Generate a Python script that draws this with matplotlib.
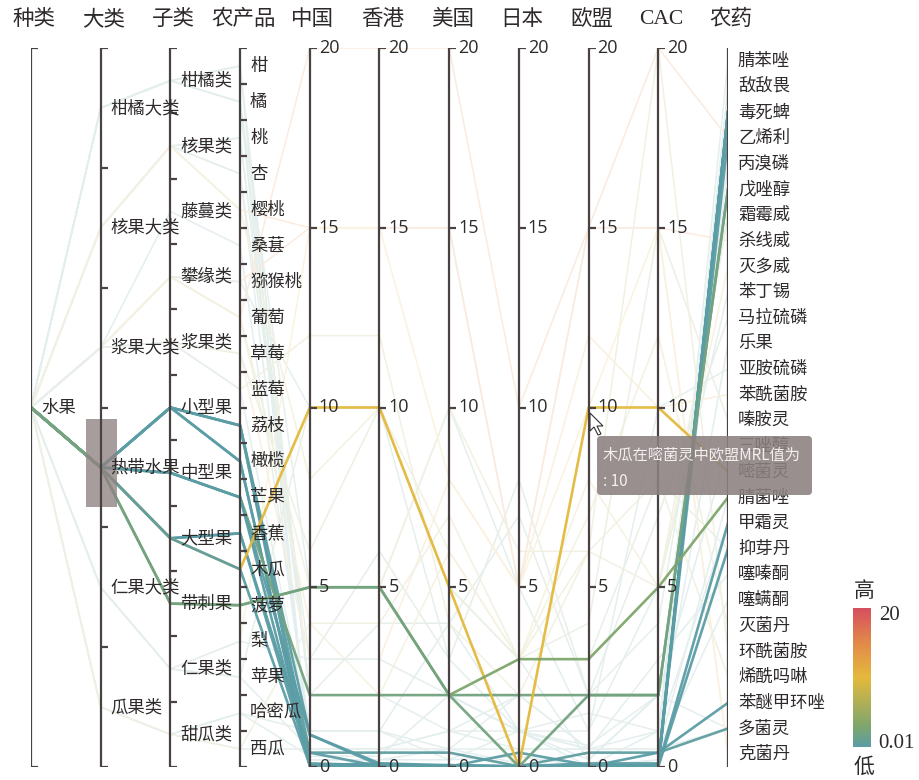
import matplotlib
matplotlib.use("Agg")
import matplotlib.pyplot as plt
from matplotlib.colors import LinearSegmentedColormap, Normalize, to_rgb
from matplotlib.colorbar import ColorbarBase
from matplotlib.patches import Rectangle, FancyBboxPatch, Polygon

plt.rcParams['font.family'] = ['Noto Sans CJK SC', 'DejaVu Sans']

# ---- data ----
dims = ['种类', '大类', '子类', '农产品', '中国', '香港', '美国', '日本', '欧盟', 'CAC', '农药']
kinds = ['水果']
groups = ['柑橘大类', '核果大类', '浆果大类', '热带水果', '仁果大类', '瓜果类']
subgroups = ['柑橘类', '核果类', '藤蔓类', '攀缘类', '浆果类', '小型果', '中型果',
             '大型果', '带刺果', '仁果类', '甜瓜类']
products = ['柑', '橘', '桃', '杏', '樱桃', '桑葚', '猕猴桃', '葡萄', '草莓', '蓝莓',
            '荔枝', '橄榄', '芒果', '香蕉', '木瓜', '菠萝', '梨', '苹果', '哈密瓜', '西瓜']
pesticides = ['腈苯唑', '敌敌畏', '毒死蜱', '乙烯利', '丙溴磷', '戊唑醇', '霜霉威', '杀线威',
              '灭多威', '苯丁锡', '马拉硫磷', '乐果', '亚胺硫磷', '苯酰菌胺', '嗪胺灵', '三唑醇',
              '嘧菌灵', '腈菌唑', '甲霜灵', '抑芽丹', '噻嗪酮', '噻螨酮', '灭菌丹', '环酰菌胺',
              '烯酰吗啉', '苯醚甲环唑', '多菌灵', '克菌丹']
mrl_ticks = [0, 5, 10, 15, 20]
mrl_min, mrl_max = 0.01, 20

group_of = {'柑': '柑橘大类', '橘': '柑橘大类', '桃': '核果大类', '杏': '核果大类',
            '樱桃': '核果大类', '桑葚': '浆果大类', '猕猴桃': '浆果大类', '葡萄': '浆果大类',
            '草莓': '浆果大类', '蓝莓': '浆果大类', '荔枝': '热带水果', '橄榄': '热带水果',
            '芒果': '热带水果', '香蕉': '热带水果', '木瓜': '热带水果', '菠萝': '热带水果',
            '梨': '仁果大类', '苹果': '仁果大类', '哈密瓜': '瓜果类', '西瓜': '瓜果类'}
sub_of = {'柑': '柑橘类', '橘': '柑橘类', '桃': '核果类', '杏': '核果类', '樱桃': '核果类',
          '桑葚': '藤蔓类', '猕猴桃': '攀缘类', '葡萄': '攀缘类', '草莓': '浆果类',
          '蓝莓': '浆果类', '荔枝': '小型果', '橄榄': '小型果', '芒果': '中型果',
          '香蕉': '大型果', '木瓜': '大型果', '菠萝': '带刺果', '梨': '仁果类',
          '苹果': '仁果类', '哈密瓜': '甜瓜类', '西瓜': '甜瓜类'}

# brushed records (热带水果)
hl_product = ['荔枝', '荔枝', '荔枝', '橄榄', '橄榄', '芒果', '芒果', '芒果',
              '香蕉', '香蕉', '木瓜', '木瓜', '菠萝', '菠萝']
hl_pesticide = ['毒死蜱', '多菌灵', '甲霜灵', '毒死蜱', '苯醚甲环唑', '戊唑醇', '毒死蜱', '抑芽丹',
                '毒死蜱', '乙烯利', '嘧菌灵', '毒死蜱', '腈菌唑', '戊唑醇']
hl_cn = [0.9, 0.4, 0.05, 0.05, 0.02, 2, 0.9, 0.05, 0.4, 0.1, 10, 0.05, 5, 5]
hl_hk = [0.1, 0.4, 0.05, 0.02, 0.01, 2, 0.05, 0.1, 0.02, 0.05, 10, 0.05, 5, 5]
hl_us = [0.05, 0.4, 0.01, 0.05, 0.01, 2, 0.02, 0.01, 0.05, 0.02, 5, 0.02, 2, 2]
hl_jp = [0.01, 0.02, 0.4, 0.01, 0.01, 2, 0.01, 0.01, 0.02, 0.01, 0.01, 0.01, 3, 0.01]
hl_eu = [0.02, 0.4, 0.05, 0.01, 0.01, 2, 0.05, 0.01, 0.1, 0.02, 10, 0.01, 3, 2]
hl_cac = [0.05, 0.4, 0.05, 0.01, 0.4, 2, 0.02, 0.01, 0.1, 0.02, 10, 0.05, 5, 2]

# other fruit records
bg_product = ['柑', '柑', '柑', '橘', '橘', '橘', '桃', '桃', '杏', '杏', '樱桃', '樱桃',
              '桑葚', '猕猴桃', '猕猴桃', '葡萄', '葡萄', '葡萄', '草莓', '草莓', '蓝莓',
              '蓝莓', '梨', '梨', '苹果', '苹果', '哈密瓜', '哈密瓜', '西瓜', '西瓜']
bg_pesticide = ['毒死蜱', '丙溴磷', '马拉硫磷', '乙烯利', '苯丁锡', '敌敌畏', '多菌灵', '戊唑醇',
                '腈苯唑', '霜霉威', '克菌丹', '灭菌丹', '乐果', '杀线威', '亚胺硫磷', '乙烯利',
                '烯酰吗啉', '灭多威', '苯酰菌胺', '嗪胺灵', '环酰菌胺', '噻嗪酮', '克菌丹',
                '噻螨酮', '抑芽丹', '腈菌唑', '甲霜灵', '三唑醇', '多菌灵', '霜霉威']
bg_cn = [2, 0.2, 2, 2, 5, 0.2, 2, 2, 0.5, 3, 15, 8, 1, 15, 10, 20, 5, 4, 3, 6, 12, 1, 15, 3, 10, 0.5, 1, 0.3, 0.5, 4]
bg_hk = [2, 0.2, 4, 2, 5, 0.2, 2, 2, 0.5, 6, 15, 10, 1, 15, 10, 20, 5, 2, 3, 10, 12, 1, 15, 3, 10, 0.5, 1, 0.3, 0.5, 4]
bg_us = [1, 0.2, 4, 2, 10, 0.5, 2, 2, 0.5, 3, 15, 6, 4, 15, 3, 20, 10, 6, 8, 5, 4, 0.5, 8, 2, 5, 1, 0.2, 2, 1, 7]
bg_jp = [1, 0.3, 7, 2, 5, 0.1, 3, 1, 0.5, 8, 5, 3, 1, 5, 1, 10, 6, 3, 5, 3, 2, 2, 5, 1, 3, 0.5, 1, 1, 2, 3]
bg_eu = [1.5, 0.01, 2, 2, 1, 0.01, 0.2, 0.6, 0.5, 2, 15, 7, 0.02, 15, 1, 15, 6, 8, 12, 4, 6, 0.5, 10, 0.5, 3, 0.5, 0.5, 0.2, 0.5, 6]
bg_cac = [1, 0.2, 7, 2, 5, 0.2, 2, 2, 0.5, 4, 15, 12, 1, 15, 10, 20, 8, 5, 10, 15, 20, 3, 15, 0.5, 8, 0.5, 1, 2, 0.5, 5]

# ---- scales ----
n_dim = len(dims)
cat_levels = {0: kinds, 1: groups, 2: subgroups, 3: products, 10: pesticides}


def cat_y(levels, v):
    return 1 - (levels.index(v) + 0.5) / len(levels)


def record_y(prod, pest, vals):
    ys = [cat_y(kinds, '水果'), cat_y(groups, group_of[prod]),
          cat_y(subgroups, sub_of[prod]), cat_y(products, prod)]
    ys += [v / mrl_max for v in vals]
    ys.append(cat_y(pesticides, pest))
    return ys


cmap = LinearSegmentedColormap.from_list(
    'mrl', [(0, '#5b9da6'), (0.15, '#7fa66c'), (0.5, '#e4b93c'), (0.75, '#e2894a'), (1, '#d64f5e')])
norm = Normalize(mrl_min, mrl_max)

fig = plt.figure(figsize=(9.2, 7.8), dpi=100)
W, H = 920, 780
ax = fig.add_axes([31 / W, 13 / H, 697 / W, 719 / H])
ax.set_xlim(0, n_dim - 1)
ax.set_ylim(0, 1)
ax.axis('off')
px = (n_dim - 1) / 697   # one pixel in x data units
py = 1 / 719             # one pixel in y data units
xs = list(range(n_dim))

# faint lines for records outside the brush
for i in range(len(bg_product)):
    vals = [bg_cn[i], bg_hk[i], bg_us[i], bg_jp[i], bg_eu[i], bg_cac[i]]
    c = to_rgb(cmap(norm(bg_eu[i])))
    c = tuple(0.17 * ch + 0.83 for ch in c)
    ax.plot(xs, record_y(bg_product[i], bg_pesticide[i], vals), color=c, lw=1.1, zorder=1)

# brushed records
for i in range(len(hl_product)):
    vals = [hl_cn[i], hl_hk[i], hl_us[i], hl_jp[i], hl_eu[i], hl_cac[i]]
    ax.plot(xs, record_y(hl_product[i], hl_pesticide[i], vals),
            color=cmap(norm(hl_eu[i])), lw=1.9, alpha=0.95, zorder=3,
            solid_joinstyle='round')

# brush on the 大类 axis
g = cat_y(groups, '热带水果')
ax.add_patch(Rectangle((1 - 15 * px, g - 40 * py), 31 * px, 88 * py,
                       fc='#8e8282', alpha=0.78, ec='none', zorder=4))

# axes, ticks and labels
axis_c = '#4a4242'
text_c = '#2e2a2a'
tick = 7 * px
for i, name in enumerate(dims):
    ax.plot([i, i], [0, 1], color=axis_c, lw=1.6, zorder=6, solid_capstyle='butt')
    ax.text(i + 3 * px, (767 - 20) * py, name, ha='center', va='center', fontsize=15.5,
            color=text_c, family=['Liberation Serif', 'Noto Sans CJK SC'])
    if i in cat_levels:
        levels = cat_levels[i]
        n = len(levels)
        for k in range(n + 1):
            ax.plot([i, i + tick], [k / n] * 2, color=axis_c, lw=1.6, zorder=6,
                    solid_capstyle='butt')
        for lab in levels:
            ax.text(i + 10 * px, cat_y(levels, lab), lab, ha='left', va='center',
                    fontsize=12.5, color=text_c, zorder=7)
    else:
        for t in mrl_ticks:
            ax.plot([i, i + tick], [t / mrl_max] * 2, color=axis_c, lw=1.6, zorder=6,
                    solid_capstyle='butt')
            ax.text(i + 9 * px, t / mrl_max, str(t), ha='left', va='center',
                    fontsize=13, color=text_c, family=['Open Sans', 'DejaVu Sans'], zorder=7)

# colour legend
cax = fig.add_axes([853 / W, (H - 747) / H, 18 / W, 139 / H])
cb = ColorbarBase(cax, cmap=cmap, norm=norm, orientation='vertical')
cb.set_ticks([])
cb.outline.set_visible(False)

# overlay in pixel coordinates for legend text and tooltip
ov = fig.add_axes([0, 0, 1, 1])
ov.set_xlim(0, W)
ov.set_ylim(H, 0)
ov.axis('off')
ov.text(864, 591, '高', ha='center', va='center', fontsize=15, color=text_c)
ov.text(864, 767, '低', ha='center', va='center', fontsize=15, color=text_c)
ov.text(879, 616, str(mrl_max), ha='left', va='center', fontsize=15, color=text_c,
        family='Liberation Serif')
ov.text(878, 743, str(mrl_min), ha='left', va='center', fontsize=15, color=text_c,
        family='Liberation Serif')

# hover tooltip
ov.add_patch(FancyBboxPatch((597, 436), 215, 59, boxstyle='round,pad=0,rounding_size=4',
                            fc='#8b8080', ec='none', alpha=0.88, zorder=8))
ov.text(603, 456, '木瓜在嘧菌灵中欧盟MRL值为', ha='left', va='center', fontsize=11,
        color='#f4efef', zorder=9)
ov.text(603, 482, ': 10', ha='left', va='center', fontsize=11, color='#f4efef', zorder=9)
ov.add_patch(Polygon([(590, 413), (590, 431), (594, 427), (598, 435), (601, 434),
                      (597, 426), (603, 426)], closed=True, fc='white', ec='#333333',
                     lw=0.8, zorder=9))

fig.savefig('out.png', dpi=100)
